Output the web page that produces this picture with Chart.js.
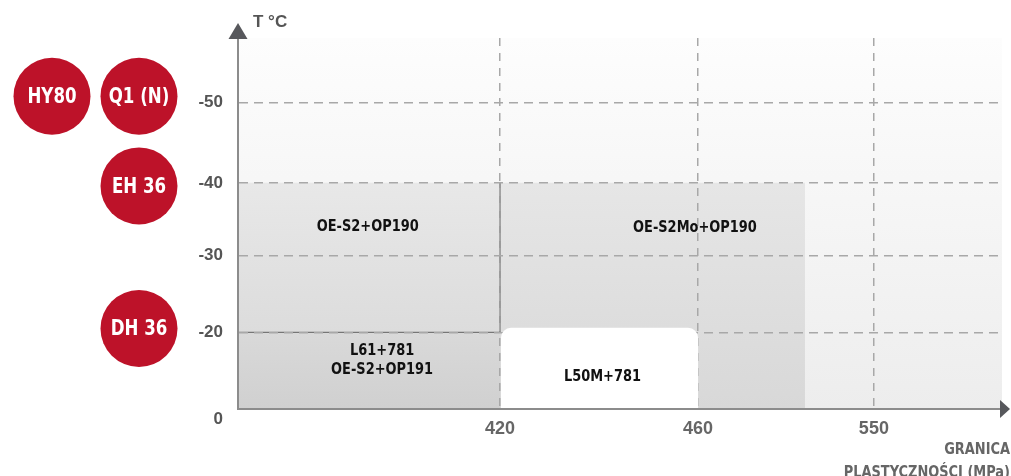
<!DOCTYPE html>
<html>
<head>
<meta charset="utf-8">
<script src="https://cdn.jsdelivr.net/npm/chart.js@4.4.1/dist/chart.umd.min.js"></script>
<style>
  html, body { margin: 0; padding: 0; background: #fff; }
  #wrap { width: 1011px; height: 476px; position: relative; }
</style>
</head>
<body>
<div id="wrap"><canvas id="myChart"></canvas></div>
<script>
// axis ticks, in axis units (x: 420 MPa sits at 1, y: 0 °C sits at 0)
const xTickLabels = ["420", "460", "550"];
const xTickPos = [1, 1.756, 2.427];
const yTickLabels = ["0", "-20", "-30", "-40", "-50"];
const yTickPos = [0, 1, 2, 2.95, 4];

// consumable regions (last one is the white rounded box)
const regionNames = [["OE-S2+OP190"], ["L61+781", "OE-S2+OP191"], ["OE-S2Mo+OP190"], ["L50M+781"]];
const regionX0 = [0, 0, 1, 1];
const regionX1 = [1, 1, 2.164, 1.756];
const regionY0 = [1, 0, 0, 0];
const regionY1 = [2.95, 1, 2.95, 1.06];
const labelX = [0.495, 0.55, 1.744, 1.391];
const labelY = [2.38, 0.63, 2.36, 0.42];

// steel grades shown as red discs left of the axis
const gradeNames = ["HY80", "Q1 (N)", "EH 36", "DH 36"];
const gradeLevel = [4.08, 4.08, 2.91, 1.05];
const gradeColumn = [1, 0, 0, 0];

const NARROW = '"DejaVu Sans Condensed", "Liberation Sans Narrow", sans-serif';
const PLAIN = '"Liberation Sans", Arial, sans-serif';
const shades = [
  ["#e8e8e8", "#dcdcdc"],
  ["#d9d9d9", "#d0d0d0"],
  ["#e6e6e6", "#d8d8d8"],
];

// vertical gradient for a region, built from the y scale
function regionGradient(i) {
  return (ctx) => {
    const chart = ctx.chart;
    const y = chart.scales.y;
    if (!chart.chartArea || !y) return shades[i][1];
    const g = chart.ctx.createLinearGradient(
      0, y.getPixelForValue(regionY1[i]), 0, y.getPixelForValue(regionY0[i]));
    g.addColorStop(0, shades[i][0]);
    g.addColorStop(1, shades[i][1]);
    return g;
  };
}

const datasets = [];
for (let i = 0; i < 3; i++) {
  datasets.push({
    data: [{ x: regionX0[i], y: regionY1[i] }, { x: regionX1[i], y: regionY1[i] }],
    showLine: true,
    borderWidth: 0,
    pointRadius: 0,
    fill: { value: regionY0[i] },
    backgroundColor: regionGradient(i),
    order: 1,
  });
}
// outline of the OE-S2+OP190 block (bottom and right edge)
datasets.push({
  data: [
    { x: regionX0[0], y: regionY0[0] },
    { x: regionX1[0], y: regionY0[0] },
    { x: regionX1[0], y: regionY1[0] },
  ],
  showLine: true,
  fill: false,
  borderColor: "#767676",
  borderWidth: 1.3,
  pointRadius: 0,
  order: 0,
});

// text squeezed horizontally to mimic the narrow face of the original
function narrowText(ctx, text, x, y, sx) {
  ctx.save();
  ctx.translate(x, y);
  ctx.scale(sx, 1);
  ctx.fillText(text, 0, 0);
  ctx.restore();
}

// plot background
const backdrop = {
  id: "backdrop",
  beforeDraw(chart) {
    const { ctx, chartArea: a } = chart;
    const g = ctx.createLinearGradient(0, a.top, 0, a.bottom);
    g.addColorStop(0, "#fdfdfd");
    g.addColorStop(1, "#ededed");
    ctx.save();
    ctx.fillStyle = g;
    ctx.fillRect(a.left, a.top, a.right - a.left, a.bottom - a.top);
    ctx.restore();
  },
};

// white box, labels, grade discs, arrows and axis titles
const overlay = {
  id: "overlay",
  afterDraw(chart) {
    const { ctx, chartArea: a } = chart;
    const xs = chart.scales.x;
    const ys = chart.scales.y;
    ctx.save();

    // L50M+781 box with rounded top corners
    const bx0 = xs.getPixelForValue(regionX0[3]) + 1;
    const bx1 = xs.getPixelForValue(regionX1[3]);
    const by0 = ys.getPixelForValue(regionY0[3]) - 1;
    const by1 = ys.getPixelForValue(regionY1[3]);
    ctx.fillStyle = "#ffffff";
    ctx.beginPath();
    ctx.roundRect(bx0, by1, bx1 - bx0, by0 - by1, [10, 10, 0, 0]);
    ctx.fill();

    // region labels
    ctx.fillStyle = "#111111";
    ctx.font = "bold 16px " + NARROW;
    ctx.textAlign = "center";
    ctx.textBaseline = "middle";
    regionNames.forEach((lines, i) => {
      const cx = xs.getPixelForValue(labelX[i]);
      const cy = ys.getPixelForValue(labelY[i]);
      lines.forEach((t, k) => {
        narrowText(ctx, t, cx, cy + (k - (lines.length - 1) / 2) * 19, 0.9);
      });
    });

    // grade discs
    gradeNames.forEach((name, i) => {
      const cx = a.left - 99 - gradeColumn[i] * 87;
      const cy = ys.getPixelForValue(gradeLevel[i]);
      ctx.fillStyle = "#bd1229";
      ctx.beginPath();
      ctx.arc(cx, cy, 38.5, 0, Math.PI * 2);
      ctx.fill();
      ctx.fillStyle = "#ffffff";
      ctx.font = "bold 22px " + NARROW;
      narrowText(ctx, name, cx, cy + 1, 0.84);
    });

    // axis arrows
    ctx.fillStyle = "#57585c";
    ctx.beginPath();
    ctx.moveTo(a.left, a.top - 15);
    ctx.lineTo(a.left - 9.5, a.top + 1);
    ctx.lineTo(a.left + 9.5, a.top + 1);
    ctx.closePath();
    ctx.fill();
    ctx.beginPath();
    ctx.moveTo(a.right + 8, a.bottom);
    ctx.lineTo(a.right - 2, a.bottom - 9);
    ctx.lineTo(a.right - 2, a.bottom + 9);
    ctx.closePath();
    ctx.fill();

    // axis titles
    ctx.fillStyle = "#555555";
    ctx.font = "bold 17px " + PLAIN;
    ctx.textAlign = "left";
    ctx.textBaseline = "alphabetic";
    ctx.fillText("T °C", a.left + 15, 27);
    ctx.fillStyle = "#666666";
    ctx.font = "bold 16px " + NARROW;
    ctx.textAlign = "right";
    narrowText(ctx, "GRANICA", chart.width - 1, 454, 0.9);
    narrowText(ctx, "PLASTYCZNOŚCI (MPa)", chart.width - 1, 477, 0.9);
    ctx.restore();
  },
};

new Chart(document.getElementById("myChart"), {
  type: "scatter",
  data: { datasets },
  plugins: [backdrop, overlay],
  options: {
    responsive: true,
    maintainAspectRatio: false,
    animation: false,
    layout: { padding: { top: 38, right: 9, bottom: 0, left: 0 } },
    plugins: {
      legend: { display: false },
      tooltip: { enabled: false },
    },
    scales: {
      x: {
        type: "linear",
        min: 0,
        max: 2.916,
        afterFit: (s) => { s.height = 67; },
        afterBuildTicks: (s) => { s.ticks = xTickPos.map((v) => ({ value: v })); },
        ticks: {
          padding: 9,
          color: "#666666",
          font: { family: PLAIN, size: 18, weight: "bold" },
          callback: (v, i) => xTickLabels[i],
        },
        grid: { z: 1, color: "#a8a8a8", lineWidth: 1.5, drawTicks: false },
        border: { z: 1, color: "#8c8c8c", width: 2, dash: [8, 7] },
      },
      y: {
        type: "linear",
        min: 0,
        max: 4.84,
        afterFit: (s) => { s.width = 238; },
        afterBuildTicks: (s) => { s.ticks = yTickPos.map((v) => ({ value: v })); },
        ticks: {
          padding: 15,
          color: "#555555",
          font: { family: PLAIN, size: 17, weight: "bold" },
          callback: (v, i) => (i === 0 ? ["", yTickLabels[i]] : yTickLabels[i]),
        },
        grid: {
          z: 1,
          color: (c) => (c.index === 0 ? "rgba(0,0,0,0)" : "#a8a8a8"),
          lineWidth: 1.5,
          drawTicks: false,
        },
        border: { z: 1, color: "#8c8c8c", width: 2, dash: [9, 6] },
      },
    },
  },
});
</script>
</body>
</html>
